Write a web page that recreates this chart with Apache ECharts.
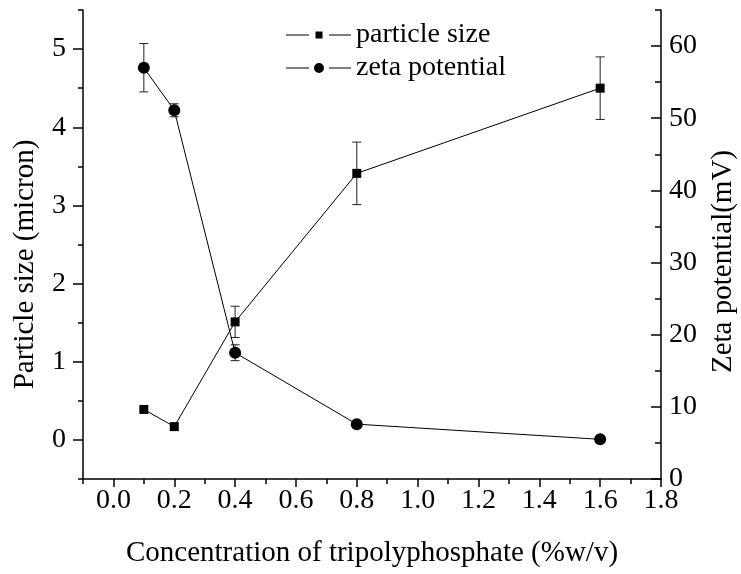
<!DOCTYPE html>
<html>
<head>
<meta charset="utf-8">
<script src="https://cdn.jsdelivr.net/npm/echarts@6/dist/echarts.min.js"></script>
<style>html,body{margin:0;padding:0;background:#fff;}#c{width:741px;height:574px;}</style>
</head>
<body>
<div id="c"></div>
<script>
// Data
const conc = [0.1, 0.2, 0.4, 0.8, 1.6];
const particleSize = [0.39, 0.17, 1.51, 3.41, 4.50];
const particleErr = [0, 0, 0.2, 0.4, 0.4];
const zeta = [57.0, 51.1, 17.5, 7.6, 5.5];
const zetaErr = [3.35, 0.9, 1.1, 0, 0];
const xMajor = [0, 0.2, 0.4, 0.6, 0.8, 1.0, 1.2, 1.4, 1.6, 1.8];
const xMinor = [-0.1, 0.1, 0.3, 0.5, 0.7, 0.9, 1.1, 1.3, 1.5, 1.7];
const yLeftMajor = [0, 1, 2, 3, 4, 5];
const yLeftMinor = [-0.5, 0.5, 1.5, 2.5, 3.5, 4.5, 5.5];
const yRightMajor = [0, 10, 20, 30, 40, 50, 60];
const yRightMinor = [5, 15, 25, 35, 45, 55, 65];

const FONT = 'Liberation Serif';
const FS = 28;
const chart = echarts.init(document.getElementById('c'), null, {renderer: 'canvas'});

// legend glyphs: line - marker - line (with gaps)
const ICON_SQUARE = 'path://M0 0L0.01 0L0 0.01Z M0 4.5H23V5.5H0Z M29.5 1.5H36.5V8.5H29.5Z M43 4.5H65V5.5H43Z M65 10L64.99 10L65 9.99Z';
const ICON_CIRCLE = 'path://M0 4.5H23V5.5H0Z M28 5A5 5 0 1 0 38 5A5 5 0 1 0 28 5Z M43 4.5H65V5.5H43Z M0 0L0.01 0L0 0.01Z M65 10L64.99 10L65 9.99Z';

function errSeries(vals, errs, yIdx) {
  const data = conc.map((x, i) => [x, vals[i], errs[i]]).filter(d => d[2] > 0);
  return {
    type: 'custom', xAxisIndex: 0, yAxisIndex: yIdx, z: 1, silent: true,
    data: data,
    renderItem: function (params, api) {
      const x = api.value(0), v = api.value(1), e = api.value(2);
      const top = api.coord([x, v + e]);
      const bot = api.coord([x, v - e]);
      const hw = 4.5;
      const st = {stroke: '#222', lineWidth: 1};
      return {type: 'group', children: [
        {type: 'line', shape: {x1: top[0], y1: top[1], x2: bot[0], y2: bot[1]}, style: st},
        {type: 'line', shape: {x1: top[0] - hw, y1: top[1], x2: top[0] + hw, y2: top[1]}, style: st},
        {type: 'line', shape: {x1: bot[0] - hw, y1: bot[1], x2: bot[0] + hw, y2: bot[1]}, style: st}
      ]};
    }
  };
}

const axLine = {show: true, onZero: false, lineStyle: {color: '#000', width: 1.5}};
const tickStyle = {color: '#000', width: 1.5};

chart.setOption({
  animation: false,
  backgroundColor: '#fff',
  textStyle: {fontFamily: FONT, color: '#000'},
  grid: {left: 83, right: 80, top: 10, bottom: 95, containLabel: false, outerBoundsMode: 'none'},
  legend: {
    orient: 'vertical', left: 281, top: 16, itemGap: 5, itemWidth: 65, itemHeight: 10,
    textStyle: {fontFamily: FONT, fontSize: FS, color: '#000'},
    data: [
      {name: 'particle size', icon: ICON_SQUARE},
      {name: 'zeta potential', icon: ICON_CIRCLE}
    ]
  },
  xAxis: [
    {
      type: 'value', min: -0.1, max: 1.8, interval: 0.1, position: 'bottom',
      name: 'Concentration of tripolyphosphate (%w/v)', nameLocation: 'middle', nameGap: 60,
      nameTextStyle: {fontFamily: FONT, fontSize: 29, color: '#000'},
      axisLine: axLine,
      axisTick: {show: true, length: 8, inside: false, customValues: xMajor, lineStyle: tickStyle},
      axisLabel: {show: true, margin: 8, customValues: xMajor, fontFamily: FONT, fontSize: FS, color: '#000',
        formatter: v => v.toFixed(1)},
      splitLine: {show: false}
    },
    {
      type: 'value', min: -0.1, max: 1.8, interval: 0.1, position: 'bottom', offset: 0,
      axisLine: {show: false, onZero: false},
      axisTick: {show: true, length: 5, inside: false, customValues: xMinor, lineStyle: tickStyle},
      axisLabel: {show: false}, splitLine: {show: false}
    }
  ],
  yAxis: [
    {
      type: 'value', min: -0.5, max: 5.5, interval: 0.5, position: 'left',
      name: 'Particle size (micron)', nameLocation: 'middle', nameGap: 43, nameRotate: 90,
      nameTextStyle: {fontFamily: FONT, fontSize: 29, color: '#000', padding: [0, 40, 0, 0]},
      axisLine: axLine,
      axisTick: {show: true, length: 10, inside: false, customValues: yLeftMajor, lineStyle: tickStyle},
      axisLabel: {show: true, margin: 17, customValues: yLeftMajor, fontFamily: FONT, fontSize: FS, color: '#000'},
      splitLine: {show: false}
    },
    {
      type: 'value', min: 0, max: 65, interval: 5, position: 'right',
      name: 'Zeta potential(mV)', nameLocation: 'middle', nameGap: 48, nameRotate: 90,
      nameTextStyle: {fontFamily: FONT, fontSize: 29, color: '#000', padding: [0, 34, 0, 0]},
      axisLine: axLine,
      axisTick: {show: true, length: 10, inside: true, customValues: yRightMajor, lineStyle: tickStyle},
      axisLabel: {show: true, margin: 8, customValues: yRightMajor, fontFamily: FONT, fontSize: FS, color: '#000'},
      splitLine: {show: false}
    },
    {
      type: 'value', min: -0.5, max: 5.5, interval: 0.5, position: 'left', offset: 0,
      axisLine: {show: false, onZero: false},
      axisTick: {show: true, length: 5, inside: false, customValues: yLeftMinor, lineStyle: tickStyle},
      axisLabel: {show: false}, splitLine: {show: false}
    },
    {
      type: 'value', min: 0, max: 65, interval: 5, position: 'right', offset: 0,
      axisLine: {show: false, onZero: false},
      axisTick: {show: true, length: 6, inside: true, customValues: yRightMinor, lineStyle: tickStyle},
      axisLabel: {show: false}, splitLine: {show: false}
    }
  ],
  series: [
    errSeries(particleSize, particleErr, 0),
    errSeries(zeta, zetaErr, 1),
    {
      name: 'particle size', type: 'line', xAxisIndex: 0, yAxisIndex: 0, z: 3,
      data: conc.map((x, i) => [x, particleSize[i]]),
      symbol: 'rect', symbolSize: 9, showSymbol: true,
      itemStyle: {color: '#000'}, lineStyle: {color: '#000', width: 1}
    },
    {
      name: 'zeta potential', type: 'line', xAxisIndex: 0, yAxisIndex: 1, z: 3,
      data: conc.map((x, i) => [x, zeta[i]]),
      symbol: 'circle', symbolSize: 12, showSymbol: true,
      itemStyle: {color: '#000'}, lineStyle: {color: '#000', width: 1}
    }
  ]
});
</script>
</body>
</html>
